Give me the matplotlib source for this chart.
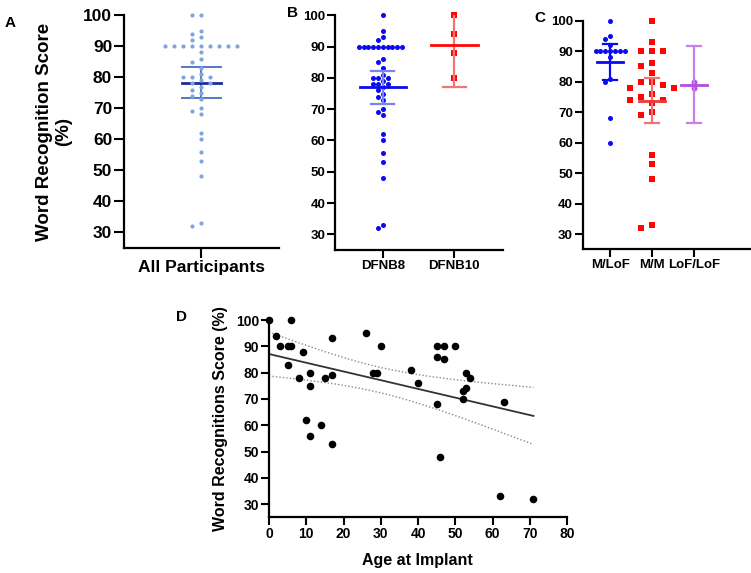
import numpy as np
import matplotlib
matplotlib.use("Agg")
import matplotlib.pyplot as plt

plt.rcParams["font.family"] = ["Liberation Sans", "DejaVu Sans"]
plt.rcParams["font.weight"] = "bold"
plt.rcParams["axes.labelweight"] = "bold"

# ---- data ----
all_scores = [100, 100, 95, 94, 93, 92] + [90] * 9 + [
    88, 86, 85, 83, 81, 80, 80, 80, 79, 78, 78, 77, 76, 75, 74, 73,
    70, 69, 68, 62, 60, 56, 53, 48, 33, 32]
all_stats = [78.3, 73.3, 83.3]  # mean, CI low, CI high

dfnb8 = [100, 95, 93, 92] + [90] * 10 + [
    86, 85, 83, 81, 80, 80, 80, 79, 78, 78, 78, 77, 76, 75, 74, 73,
    70, 69, 68, 62, 60, 56, 53, 48, 33, 32]
dfnb10 = [100, 94, 88, 80]
gene_labels = ["DFNB8", "DFNB10"]
gene_stats = [[77.0, 71.8, 82.3], [90.5, 77.0, 104.0]]

m_lof = [100, 95, 94, 92] + [90] * 7 + [88, 81, 80, 68, 60]
m_m = [100, 93, 90, 90, 90, 86, 85, 83, 80, 80, 79, 78, 78, 76, 75,
       74, 74, 73, 70, 69, 56, 53, 48, 33, 32]
lof_lof = [80, 78]
geno_labels = ["M/LoF", "M/M", "LoF/LoF"]
geno_stats = [[86.6, 80.6, 92.3], [73.8, 66.3, 81.2], [79.0, 66.3, 91.6]]

age = [0, 6, 2, 3, 5, 6, 5, 9, 8, 11, 11, 10, 11, 14, 15, 17, 17, 17,
       26, 28, 29, 30, 38, 40, 45, 47, 50, 45, 47, 45, 46, 53, 54, 53,
       52, 52, 63, 62, 71]
wrs = [100, 100, 94, 90, 90, 90, 83, 88, 78, 80, 75, 62, 56, 60, 78, 93,
       79, 53, 95, 80, 80, 90, 81, 76, 90, 90, 90, 86, 85, 68, 48, 80,
       78, 74, 73, 70, 69, 33, 32]

BLUE = "#0B0BF2"
RED = "#FF0505"
PURPLE = "#B64BE3"


def swarm_x(ax, xc, vals, gap, vgap):
    # column-style swarm in pixel space: points clash when closer than
    # gap across and vgap up/down
    pix = ax.transData.transform(np.column_stack([np.full(len(vals), xc), vals]))
    cx = pix[0, 0]
    placed = []
    out = []
    for py in pix[:, 1]:
        near = [qx for qx, qy in placed if abs(py - qy) < vgap]
        cands = [cx] + [q + gap for q in near] + [q - gap for q in near]
        cands.sort(key=lambda c: (abs(c - cx), c))
        pick = cx
        for c in cands:
            if all(abs(c - q) >= gap - 0.01 for q in near):
                pick = c
                break
        placed.append((pick, py))
        out.append(pick)
    back = ax.transData.inverted().transform(np.column_stack([out, pix[:, 1]]))
    return back[:, 0]


def style(ax, tsize, tlen):
    for s in ["top", "right"]:
        ax.spines[s].set_visible(False)
    for s in ["left", "bottom"]:
        ax.spines[s].set_linewidth(1.6)
    ax.tick_params(width=1.5, length=tlen, labelsize=tsize, pad=1.5)


def errbar(ax, x, st, mw, cw, mcol, ccol, lw=1.6):
    m, lo, hi = st
    ax.plot([x, x], [lo, hi], color=ccol, lw=lw, zorder=4)
    ax.plot([x - cw, x + cw], [lo, lo], color=ccol, lw=lw, zorder=4)
    ax.plot([x - cw, x + cw], [hi, hi], color=ccol, lw=lw, zorder=4)
    ax.plot([x - mw, x + mw], [m, m], color=mcol, lw=lw + 0.4, zorder=4)


fig = plt.figure(figsize=(7.51, 5.73), dpi=100)

# ---- A ----
axA = fig.add_axes([0.1651, 0.5677, 0.2064, 0.4056])
axA.set_xlim(-0.5, 0.5)
axA.set_ylim(25, 100)
style(axA, 12.5, 7)
axA.set_yticks(range(30, 101, 10))
axA.set_xticks([0])
axA.set_xticklabels(["All Participants"])
xa = swarm_x(axA, 0, all_scores, 9.0, 6.0)
axA.scatter(xa, all_scores, s=9, color="#7FA6DC", zorder=3, clip_on=False, linewidths=0)
m, lo, hi = all_stats
axA.plot([0, 0], [lo, hi], color="#5079C6", lw=1.4, zorder=2)
axA.plot([-0.123, 0.123], [lo, lo], color="#5079C6", lw=1.4, zorder=2)
axA.plot([-0.123, 0.123], [hi, hi], color="#5079C6", lw=1.4, zorder=2)
axA.plot([-0.123, 0.123], [m, m], color="#1B2D9E", lw=2.0, zorder=2)

# ---- B ----
axB = fig.add_axes([0.4461, 0.5637, 0.2237, 0.4096])
axB.set_xlim(-0.666, 1.68)
axB.set_ylim(25, 100)
style(axB, 9.5, 5.5)
axB.set_yticks(range(30, 101, 10))
axB.set_xticks(range(len(gene_labels)))
axB.set_xticklabels(gene_labels)
xb = swarm_x(axB, 0, dfnb8, 4.8, 3.6)
axB.scatter(xb, dfnb8, s=13, color=BLUE, zorder=3, clip_on=False, linewidths=0)
axB.scatter(np.full(len(dfnb10), 1), dfnb10, s=14, marker="s", color=RED,
            zorder=3, clip_on=False, linewidths=0)
errbar(axB, 0, gene_stats[0], 0.32, 0.16, BLUE, "#7C82EE")
errbar(axB, 1, gene_stats[1], 0.33, 0.165, RED, "#F27474")

# ---- C ----
axC = fig.add_axes([0.7759, 0.5649, 0.2228, 0.399])
axC.set_xlim(-0.66, 3.35)
axC.set_ylim(25, 100)
style(axC, 9.5, 5.5)
axC.set_yticks(range(30, 101, 10))
axC.set_xticks(range(len(geno_labels)))
axC.set_xticklabels(geno_labels)
xc0 = swarm_x(axC, 0, m_lof, 4.9, 3.2)
axC.scatter(xc0, m_lof, s=13, color=BLUE, zorder=3, clip_on=False, linewidths=0)
xc1 = swarm_x(axC, 1, m_m, 11.0, 6.5)
axC.scatter(xc1, m_m, s=15, marker="s", color=RED, zorder=3, clip_on=False, linewidths=0)
axC.scatter(np.full(len(lof_lof), 2), lof_lof, s=18, color=PURPLE, zorder=3, linewidths=0)
errbar(axC, 0, geno_stats[0], 0.31, 0.17, BLUE, BLUE)
errbar(axC, 1, geno_stats[1], 0.31, 0.17, "#F03A3A", "#F27474")
errbar(axC, 2, geno_stats[2], 0.31, 0.17, PURPLE, "#C980EC")

# ---- D ----
axD = fig.add_axes([0.3582, 0.0972, 0.3968, 0.3443])
axD.set_xlim(0, 80)
axD.set_ylim(25, 100)
style(axD, 10, 5.5)
axD.set_xticks(range(0, 81, 10))
axD.set_yticks(range(30, 101, 10))
axD.scatter(age, wrs, s=30, color="black", zorder=3, clip_on=False, linewidths=0)

xv = np.asarray(age, float)
yv = np.asarray(wrs, float)
n = len(xv)
slope, icpt = np.polyfit(xv, yv, 1)
grid = np.linspace(xv.min(), xv.max(), 200)
fit = icpt + slope * grid
res = yv - (icpt + slope * xv)
s_err = np.sqrt(np.sum(res ** 2) / (n - 2))
sxx = np.sum((xv - xv.mean()) ** 2)
half = 2.026 * s_err * np.sqrt(1 / n + (grid - xv.mean()) ** 2 / sxx)
axD.plot(grid, fit, color="#333333", lw=1.3, zorder=2)
axD.plot(grid, fit + half, color="#8a8a8a", lw=1.0, ls=(0, (1, 1.5)), zorder=2)
axD.plot(grid, fit - half, color="#8a8a8a", lw=1.0, ls=(0, (1, 1.5)), zorder=2)

# ---- labels ----
fig.text(0.072, 0.770, "Word Recognition Score\n(%)", rotation=90, ha="center",
         va="center", fontsize=13.5, linespacing=1.2)
fig.text(0.293, 0.2696, "Word Recognitions Score (%)", rotation=90, ha="center",
         va="center", fontsize=11.5)
fig.text(0.556, 0.021, "Age at Implant", ha="center", va="center", fontsize=11.5)
fig.text(0.0133, 0.960, "A", ha="center", va="center", fontsize=11)
fig.text(0.389, 0.977, "B", ha="center", va="center", fontsize=11)
fig.text(0.719, 0.969, "C", ha="center", va="center", fontsize=11)
fig.text(0.242, 0.447, "D", ha="center", va="center", fontsize=11)

fig.savefig("out.png", dpi=100)
